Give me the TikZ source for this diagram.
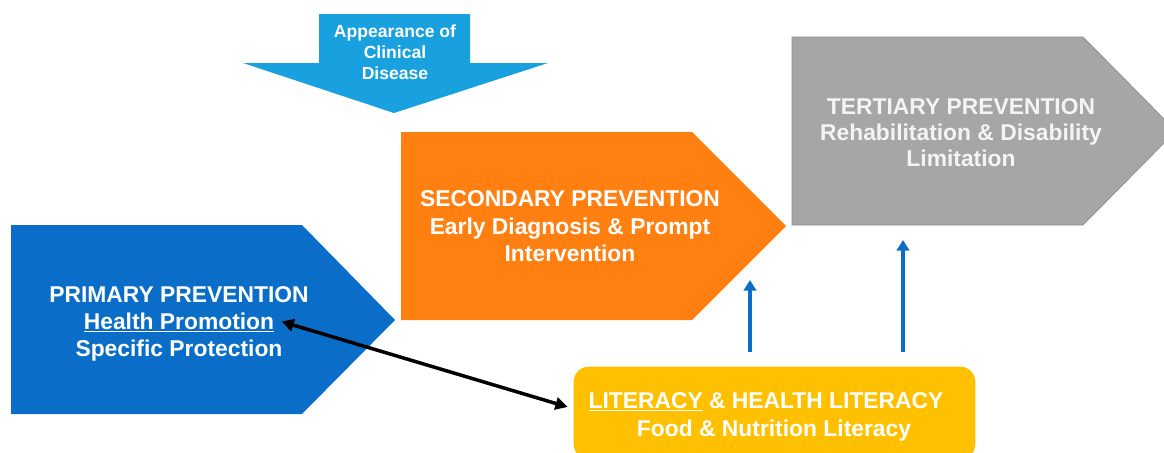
\documentclass[tikz,border=0pt]{standalone}
\usepackage{fontspec}
\setmainfont{Liberation Sans}
\usetikzlibrary{arrows.meta}

\definecolor{primblue}{RGB}{10,110,200}
\definecolor{clinblue}{RGB}{25,160,222}
\definecolor{secorange}{RGB}{255,127,17}
\definecolor{tertgray}{RGB}{166,166,166}
\definecolor{tertedge}{RGB}{140,140,140}
\definecolor{tertwhite}{RGB}{244,244,244}
\definecolor{litgold}{RGB}{255,192,0}

\tikzset{
    boxtext/.style={text=white, font=\fontsize{13}{15}\selectfont\bfseries, inner sep=0pt, anchor=base},
    smalltext/.style={text=white, font=\fontsize{10}{12}\selectfont\bfseries, inner sep=0pt, anchor=base},
    litbox/.style={fill=litgold, draw=litgold!90!orange, rounded corners=0.3cm, minimum width=8.02cm, minimum height=1.84cm, inner sep=0pt},
    uparrow/.style={draw=primblue, line width=2.2pt, -{Triangle[length=6pt, width=7pt]}},
    twoway/.style={draw=black, line width=2pt, {Triangle[length=7pt, width=7pt]}-{Triangle[length=7pt, width=7pt]}}
}

\begin{document}
\begin{tikzpicture}[x=0.02cm, y=-0.02cm]
        \useasboundingbox (0,0) rectangle (1164,453);
        \clip (0,0) rectangle (1164,453);

        % Appearance of clinical disease (arrow pointing down)
        \fill[clinblue] (319,14) -- (470,14) -- (470,63) -- (548,63) -- (394,113) -- (243,63) -- (319,63) -- cycle;
        \foreach \y/\txt/\name in {37/Appearance of/app1, 58/Clinical/app2, 79/Disease/app3} {
            \node[smalltext] (\name) at (395,\y) {\txt};
        }

        % Primary prevention
        \fill[primblue] (11,225) -- (302,225) -- (395,320) -- (302,414) -- (11,414) -- cycle;
        \node[boxtext] (primtitle) at (179,302) {PRIMARY PREVENTION};
        \node[boxtext] (promo) at (179,329) {\underline{Health Promotion}};
        \node[boxtext] (protect) at (179,356) {Specific Protection};

        % Secondary prevention
        \fill[secorange] (401,132) -- (692,132) -- (786,226) -- (692,320) -- (401,320) -- cycle;
        \node[boxtext] (sectitle) at (570,206) {SECONDARY PREVENTION};
        \node[boxtext] (secdiag) at (570,234) {Early Diagnosis \& Prompt};
        \node[boxtext] (secint) at (570,261) {Intervention};

        % Tertiary prevention
        \filldraw[fill=tertgray, draw=tertedge, line width=0.4pt] (792,37) -- (1083,37) -- (1176,131) -- (1083,225) -- (792,225) -- cycle;
        \node[boxtext, text=tertwhite] (terttitle) at (961,114) {TERTIARY PREVENTION};
        \node[boxtext, text=tertwhite] (tertrehab) at (961,140) {Rehabilitation \& Disability};
        \node[boxtext, text=tertwhite] (tertlim) at (961,166) {Limitation};

        % Literacy box
        \node[litbox] (lit) at (774.5,413) {};
        \node[boxtext] (littitle) at (766,408) {\underline{LITERACY} \& HEALTH LITERACY};
        \node[boxtext] (litfood) at (774,436) {Food \& Nutrition Literacy};

        % Blue arrows up
        \coordinate (upAstart) at (750,352);
        \coordinate (upAend) at (750,280);
        \coordinate (upBstart) at (903,352);
        \coordinate (upBend) at (903,240);
        \draw[uparrow] (upAstart) -- (upAend);
        \draw[uparrow] (upBstart) -- (upBend);

        % Link between health promotion and literacy
        \draw[twoway] ([xshift=0.14cm, yshift=0.02cm]promo.east) -- ([xshift=-0.12cm, yshift=0.12cm]lit.west);
    \end{tikzpicture}
\end{document}
